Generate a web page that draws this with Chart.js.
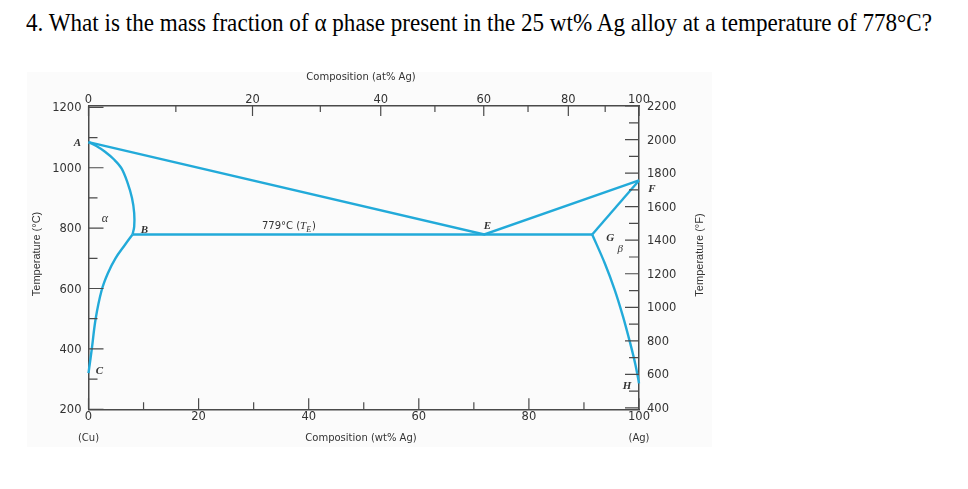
<!DOCTYPE html>
<html>
<head>
<meta charset="utf-8">
<script src="https://cdn.jsdelivr.net/npm/chart.js@4.4.0/dist/chart.umd.min.js"></script>
<style>
  html, body { margin: 0; padding: 0; background: #fff; }
  body { width: 968px; height: 489px; position: relative; overflow: hidden; }
  #titulo { position: absolute; left: 26px; top: 8px; font-family: 'Liberation Serif', 'Times New Roman', serif; font-size: 26px; line-height: 30px; color: #000; white-space: nowrap; transform-origin: 0 0; }
  #fundo { position: absolute; left: 27px; top: 72px; width: 685px; height: 375px; background: #fbfbfb; }
  #wrap { position: absolute; left: 0; top: 0; }
</style>
</head>
<body>
<div id="titulo">4. What is the mass fraction of α phase present in the 25 wt% Ag alloy at a temperature of 778°C?</div>
<div id="fundo"></div>
<div id="wrap"><canvas id="grafico" width="968" height="489"></canvas></div>
<script>
// diagrama Cu-Ag : x = wt% Ag, y = temperatura (°C)

// linha liquidus A-E-F
const liquidusX = [0, 71.9, 100];
const liquidusT = [1085, 779, 958];

// solidus A-B (curva do lado alfa)
const solidusX = [0, 1.5, 3.0, 4.6, 6.0, 7.1, 7.9, 8.3, 8.3, 8.0];
const solidusT = [1085, 1071, 1053, 1028, 998, 950, 900, 850, 805, 779];

// solvus B-C
const solvusX = [8.0, 6.6, 4.9, 3.5, 2.4, 1.3, 0.6, 0.15, 0];
const solvusT = [779, 744, 700, 650, 595, 500, 400, 340, 320];

// isoterma eutetica B-G
const eutetX = [8.0, 91.5];
const eutetT = [779, 779];

// solidus beta G-F
const betaX = [91.5, 100];
const betaT = [779, 958];

// solvus beta G-H
const solvusBetaX = [91.5, 93.8, 95.6, 97.1, 98.4, 99.3, 99.9, 100];
const solvusBetaT = [779, 683, 595, 507, 419, 352, 297, 286];

// ticks dos eixos
const wtTicks = [0, 10, 20, 30, 40, 50, 60, 70, 80, 90, 100];
const atTicks = [0, 10, 20, 30, 40, 50, 60, 70, 80, 90, 100];
const tempCTicks = [200, 300, 400, 500, 600, 700, 800, 900, 1000, 1100, 1200];
const tempFTicks = [400, 500, 600, 700, 800, 900, 1000, 1100, 1200, 1300, 1400, 1500, 1600, 1700, 1800, 1900, 2000, 2100, 2200];

// massas atomicas pra converter at% -> wt%
const massaAg = 107.87;
const massaCu = 63.55;
function atParaWt(at) {
    if (at <= 0) return 0;
    if (at >= 100) return 100;
    return 100 * at * massaAg / (at * massaAg + (100 - at) * massaCu);
}

function pontos(xs, ys) {
    return xs.map((x, i) => ({ x: x, y: ys[i] }));
}

const azul = '#22aad9';
const corEixo = '#4a4a4a';
const corTexto = '#333';
const fonteNum = { family: "'DejaVu Sans', sans-serif", size: 11.5 };

function linha(xs, ys, tensao) {
    return {
        data: pontos(xs, ys),
        showLine: true,
        borderColor: azul,
        borderWidth: 2.4,
        pointRadius: 0,
        tension: tensao,
        clip: false,
        xAxisID: 'x',
        yAxisID: 'y'
    };
}

function setTicks(lista) {
    return function (scale) {
        scale.ticks = lista.map(v => ({ value: v }));
    };
}

// marcas de tick para dentro do grafico
const marcasPlugin = {
    id: 'marcas',
    afterDraw(chart) {
        const ctx = chart.ctx;
        const a = chart.chartArea;
        const s = chart.scales;
        ctx.save();
        ctx.strokeStyle = corEixo;
        ctx.lineWidth = 1.2;
        ctx.beginPath();
        wtTicks.forEach(v => {
            const px = s.x.getPixelForValue(v);
            const len = v % 20 === 0 ? 11 : 7;
            ctx.moveTo(px, a.bottom);
            ctx.lineTo(px, a.bottom - len);
        });
        atTicks.forEach(v => {
            const px = s.x2.getPixelForValue(atParaWt(v));
            const len = v % 20 === 0 ? 10 : 6;
            ctx.moveTo(px, a.top);
            ctx.lineTo(px, a.top + len);
        });
        tempCTicks.forEach(v => {
            const py = s.y.getPixelForValue(v);
            const len = v % 200 === 0 ? 15 : 9;
            ctx.moveTo(a.left, py);
            ctx.lineTo(a.left + len, py);
        });
        tempFTicks.forEach(v => {
            const py = s.y2.getPixelForValue(v);
            const len = v % 200 === 0 ? 14 : 10;
            ctx.moveTo(a.right, py);
            ctx.lineTo(a.right - len, py);
        });
        ctx.stroke();

        // titulos dos eixos
        ctx.fillStyle = corTexto;
        ctx.textAlign = 'center';
        ctx.textBaseline = 'middle';
        ctx.font = "10px 'DejaVu Sans', sans-serif";
        ctx.fillText('Composition (at% Ag)', 361, 77);
        ctx.fillText('Composition (wt% Ag)', 361, 438);
        ctx.fillText('(Cu)', s.x.getPixelForValue(0), 438);
        ctx.fillText('(Ag)', s.x.getPixelForValue(100), 438);

        ctx.font = "11px 'Liberation Sans Narrow', 'Liberation Sans', sans-serif";
        ctx.save();
        ctx.translate(37, 254);
        ctx.rotate(-Math.PI / 2);
        ctx.fillText('Temperature (°C)', 0, 0);
        ctx.restore();
        ctx.save();
        ctx.translate(700, 255);
        ctx.rotate(-Math.PI / 2);
        ctx.fillText('Temperature (°F)', 0, 0);
        ctx.restore();

        // letras do diagrama
        const letra = (txt, wt, t, dx, dy, fonte) => {
            ctx.font = fonte || "italic bold 11px 'Liberation Serif', serif";
            ctx.fillText(txt, s.x.getPixelForValue(wt) + dx, s.y.getPixelForValue(t) + dy);
        };
        letra('A', 0, 1085, -11, 1);
        letra('α', 3.0, 833, 0, 1, "italic 12px 'Liberation Serif', serif");
        letra('B', 8.0, 779, 12, -4);
        letra('C', 0, 320, 11, -2);
        letra('E', 71.9, 779, 3, -8);
        letra('F', 100, 958, 13, 9);
        letra('G', 91.5, 779, 18, 4);
        letra('β', 91.5, 779, 28, 15, "italic 11px 'Liberation Serif', serif");
        letra('H', 100, 286, -12, 3);

        // 779°C (T_E)
        let x0 = s.x.getPixelForValue(31.5);
        const y0 = s.y.getPixelForValue(779) - 8;
        ctx.textAlign = 'left';
        ctx.font = "10px 'DejaVu Sans', sans-serif";
        ctx.fillText('779°C (', x0, y0);
        x0 += ctx.measureText('779°C (').width;
        ctx.font = "italic 11px 'Liberation Serif', serif";
        ctx.fillText('T', x0, y0);
        x0 += ctx.measureText('T').width;
        ctx.font = "italic 8px 'Liberation Serif', serif";
        ctx.fillText('E', x0, y0 + 3);
        x0 += ctx.measureText('E').width + 1;
        ctx.font = "10px 'DejaVu Sans', sans-serif";
        ctx.fillText(')', x0, y0);
        ctx.restore();
    }
};

const config = {
    type: 'scatter',
    data: {
        datasets: [
            linha(liquidusX, liquidusT, 0),
            linha(solidusX, solidusT, 0.35),
            linha(solvusX, solvusT, 0.35),
            linha(eutetX, eutetT, 0),
            linha(betaX, betaT, 0),
            linha(solvusBetaX, solvusBetaT, 0.35)
        ]
    },
    options: {
        responsive: false,
        devicePixelRatio: 1,
        animation: false,
        layout: { padding: 0 },
        plugins: {
            legend: { display: false },
            tooltip: { enabled: false }
        },
        scales: {
            x: {
                type: 'linear',
                position: 'bottom',
                min: 0,
                max: 100,
                afterBuildTicks: setTicks(wtTicks),
                afterFit(scale) { scale.height = 79.7; },
                grid: { display: false, drawTicks: false },
                border: { display: true, color: corEixo, width: 1.5 },
                ticks: {
                    color: corTexto, font: fonteNum, padding: 1, autoSkip: false, maxRotation: 0,
                    callback: v => (v % 20 === 0 ? v : '')
                }
            },
            x2: {
                type: 'linear',
                position: 'top',
                min: 0,
                max: 100,
                afterBuildTicks: setTicks(atTicks.map(atParaWt)),
                afterFit(scale) { scale.height = 106; },
                grid: { display: false, drawTicks: false },
                border: { display: true, color: corEixo, width: 1.5 },
                ticks: {
                    color: corTexto, font: fonteNum, padding: -1, autoSkip: false, maxRotation: 0,
                    callback: (v, i) => (atTicks[i] % 20 === 0 ? atTicks[i] : '')
                }
            },
            y: {
                type: 'linear',
                position: 'left',
                min: 200,
                max: 1204.44,
                afterBuildTicks: setTicks(tempCTicks),
                afterFit(scale) { scale.width = 88.5; },
                grid: { display: false, drawTicks: false },
                border: { display: true, color: corEixo, width: 1.5 },
                ticks: {
                    color: corTexto, font: fonteNum, padding: 7, autoSkip: false, labelOffset: 1,
                    callback: v => (v % 200 === 0 ? v : '')
                }
            },
            y2: {
                type: 'linear',
                position: 'right',
                min: 392,
                max: 2200,
                afterBuildTicks: setTicks(tempFTicks),
                afterFit(scale) { scale.width = 329; },
                grid: { display: false, drawTicks: false },
                border: { display: true, color: corEixo, width: 1.5 },
                ticks: {
                    color: corTexto, font: fonteNum, padding: 8, autoSkip: false, labelOffset: 1,
                    callback: v => (v % 200 === 0 ? v : '')
                }
            }
        }
    },
    plugins: [marcasPlugin]
};

document.addEventListener('DOMContentLoaded', function () {
    const titulo = document.getElementById('titulo');
    const largura = titulo.getBoundingClientRect().width;
    titulo.style.transform = 'scaleX(' + (906 / largura) + ')';

    const ctx = document.getElementById('grafico').getContext('2d');
    new Chart(ctx, config);
});
</script>
</body>
</html>
